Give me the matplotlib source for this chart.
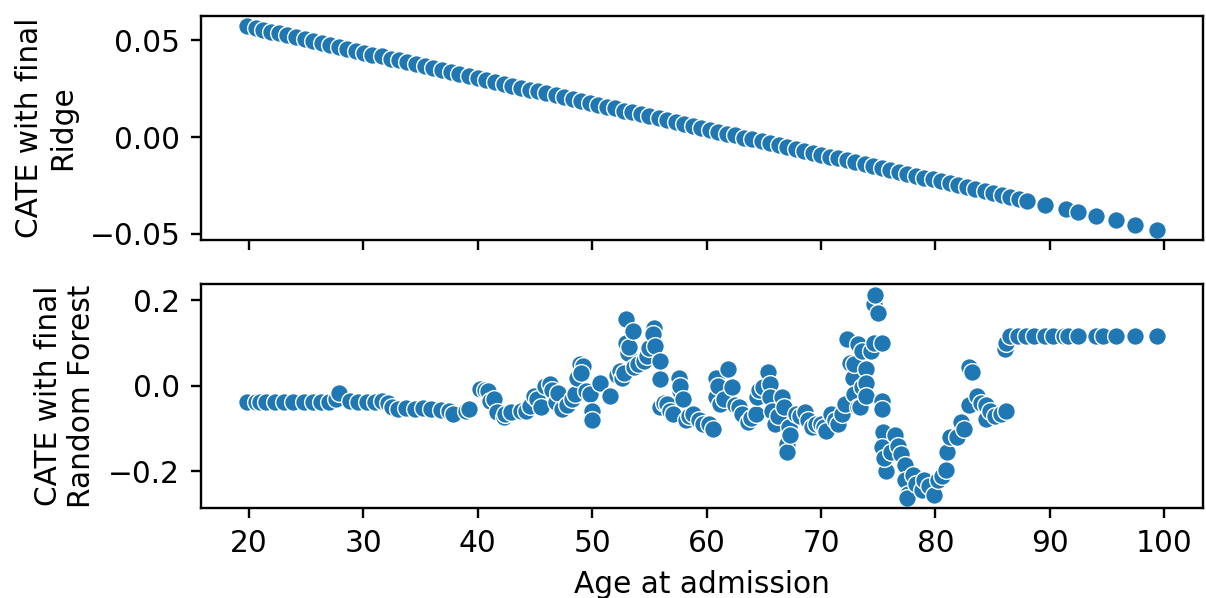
import matplotlib
matplotlib.use("Agg")
import matplotlib.pyplot as plt
import seaborn as sns

# Ridge final model: CATE vs age (points along the fitted line)
ridge_age = [19.8, 20.6, 21.2, 21.9, 22.6, 23.3, 24.1, 24.9, 25.6, 26.4, 27.1, 27.9,
             28.6, 29.4, 30.1, 30.8, 31.6, 32.4, 33.1, 33.8, 34.6, 35.4, 36.1, 36.9,
             37.7, 38.4, 39.2, 40.0, 40.7, 41.5, 42.3, 43.0, 43.8, 44.6, 45.3, 46.0,
             46.8, 47.5, 48.3, 49.0, 49.8, 50.5, 51.3, 52.0, 52.8, 53.5, 54.3, 55.0,
             55.8, 56.5, 57.3, 58.0, 58.8, 59.5, 60.3, 61.0, 61.8, 62.5, 63.3, 64.0,
             64.8, 65.5, 66.3, 67.0, 67.8, 68.5, 69.3, 70.0, 70.8, 71.5, 72.3, 73.0,
             73.8, 74.5, 75.3, 76.0, 76.8, 77.5, 78.3, 79.0, 79.8, 80.5, 81.3, 82.0,
             82.8, 83.5, 84.3, 85.0, 85.8, 86.5, 87.3, 88.0, 89.6, 91.4, 92.5, 94.0,
             95.8, 97.4, 99.4]
ridge_cate = [0.0573, 0.0562, 0.0554, 0.0545, 0.0536, 0.0526, 0.0516, 0.0505, 0.0496,
              0.0486, 0.0476, 0.0466, 0.0456, 0.0446, 0.0437, 0.0427, 0.0417, 0.0406,
              0.0397, 0.0388, 0.0377, 0.0367, 0.0358, 0.0347, 0.0336, 0.0327, 0.0317,
              0.0306, 0.0297, 0.0286, 0.0276, 0.0266, 0.0256, 0.0245, 0.0236, 0.0227,
              0.0216, 0.0207, 0.0196, 0.0187, 0.0177, 0.0167, 0.0157, 0.0148, 0.0137,
              0.0128, 0.0117, 0.0108, 0.0097, 0.0088, 0.0078, 0.0068, 0.0058, 0.0049,
              0.0038, 0.0029, 0.0018, 0.0009, -0.0002, -0.0011, -0.0021, -0.0031,
              -0.0041, -0.0050, -0.0061, -0.0070, -0.0081, -0.0090, -0.0101, -0.0110,
              -0.0120, -0.0130, -0.0140, -0.0149, -0.0160, -0.0169, -0.0180, -0.0189,
              -0.0200, -0.0209, -0.0219, -0.0229, -0.0239, -0.0248, -0.0259, -0.0268,
              -0.0279, -0.0288, -0.0299, -0.0308, -0.0318, -0.0328, -0.0349, -0.0372,
              -0.0387, -0.0407, -0.0431, -0.0452, -0.0478]

# Random forest final model: CATE vs age
rf_age = [19.8, 20.6, 21.0, 21.5, 22.3, 23.1, 23.9, 24.8, 25.6, 26.3, 27.0, 27.6, 27.9,
          28.8, 29.5, 30.3, 31.0, 31.6, 32.2, 32.5, 33.0, 33.7, 34.5, 35.2, 35.9, 36.8,
          37.5, 37.8, 39.0, 39.2, 40.2, 40.6, 40.9, 41.1, 41.4, 41.7, 42.3, 42.4, 42.9,
          43.8, 44.2, 44.6, 44.9, 45.2, 45.5, 45.9, 46.3, 46.5, 46.8, 47.0, 47.4, 47.8,
          48.2, 48.5, 48.7, 48.9, 49.2, 49.0, 49.5, 49.8, 50.0, 50.0, 50.7, 51.6, 52.2,
          52.4, 52.6, 52.8, 53.0, 53.0, 53.1, 53.2, 53.6, 53.7, 54.0, 54.5, 54.8, 55.0,
          55.4, 55.3, 55.5, 55.9, 55.9, 55.9, 56.3, 56.5, 56.8, 57.1, 57.6, 57.7, 57.7,
          57.9, 58.2, 58.5, 58.8, 59.3, 59.7, 60.2, 60.6, 60.8, 60.8, 61.0, 61.2, 61.5,
          61.9, 62.2, 62.5, 62.8, 63.1, 63.6, 63.9, 64.3, 64.4, 64.6, 64.9, 65.4, 65.5,
          65.5, 65.7, 66.0, 66.2, 66.6, 66.8, 67.0, 67.0, 67.2, 67.3, 67.8, 68.2, 68.6,
          68.9, 69.2, 69.6, 70.0, 70.3, 70.4, 70.9, 71.2, 71.5, 71.8, 72.1, 72.3, 72.5,
          72.8, 72.9, 72.9, 73.2, 73.2, 73.4, 73.6, 73.6, 73.9, 73.9, 73.9, 74.4, 74.6,
          74.6, 74.7, 75.0, 75.3, 75.3, 75.3, 75.4, 75.3, 75.7, 75.5, 76.1, 76.5, 76.7,
          77.0, 77.3, 77.3, 77.6, 77.5, 78.0, 78.3, 78.8, 79.0, 79.4, 79.9, 80.2, 80.6,
          80.9, 81.0, 81.3, 81.9, 82.2, 82.5, 82.9, 82.9, 83.2, 83.6, 84.0, 84.4, 84.4,
          84.8, 85.2, 85.7, 86.2, 86.1, 86.2, 86.5, 87.2, 87.9, 88.6, 89.6, 90.3, 91.2,
          91.6, 92.5, 94.0, 94.6, 95.8, 97.4, 99.4]
rf_cate = [-0.038, -0.038, -0.038, -0.038, -0.038, -0.038, -0.038, -0.038, -0.038, -0.038,
           -0.038, -0.030, -0.016, -0.036, -0.038, -0.038, -0.038, -0.036, -0.040, -0.050,
           -0.054, -0.052, -0.055, -0.052, -0.055, -0.056, -0.058, -0.066, -0.060, -0.054,
           -0.007, -0.010, -0.012, -0.035, -0.030, -0.062, -0.074, -0.066, -0.062, -0.058,
           -0.060, -0.047, -0.023, -0.030, -0.050, 0.000, 0.005, -0.010, -0.039, -0.016,
           -0.054, -0.045, -0.030, -0.019, 0.019, 0.050, 0.045, 0.030, -0.012, -0.020,
           -0.058, -0.081, 0.007, -0.023, 0.025, 0.035, 0.019, 0.030, 0.155, 0.100, 0.077,
           0.090, 0.128, 0.043, 0.050, 0.058, 0.070, 0.089, 0.135, 0.120, 0.093, 0.058,
           0.016, -0.050, -0.040, -0.042, -0.060, -0.066, 0.019, -0.012, 0.000, -0.030,
           -0.081, -0.070, -0.066, -0.080, -0.089, -0.090, -0.100, 0.019, -0.027, 0.000,
           -0.042, -0.030, 0.039, -0.004, -0.046, -0.050, -0.066, -0.085, -0.075, -0.066,
           -0.027, -0.010, -0.004, 0.031, 0.004, -0.027, -0.060, -0.089, -0.070, -0.027,
           -0.050, -0.136, -0.155, -0.097, -0.115, -0.066, -0.070, -0.062, -0.080, -0.097,
           -0.090, -0.090, -0.097, -0.105, -0.066, -0.080, -0.089, -0.066, -0.042, 0.109,
           0.054, 0.019, -0.019, 0.050, 0.097, -0.050, -0.050, 0.081, -0.004, 0.039, 0.007,
           -0.023, 0.081, 0.100, 0.190, 0.213, 0.170, 0.100, -0.035, -0.054, -0.108, -0.143,
           -0.200, -0.170, -0.155, -0.116, -0.140, -0.159, -0.186, -0.221, -0.252, -0.262,
           -0.209, -0.230, -0.244, -0.221, -0.235, -0.256, -0.221, -0.210, -0.198, -0.155,
           -0.120, -0.120, -0.085, -0.100, -0.046, 0.043, 0.031, -0.023, -0.040, -0.046,
           -0.077, -0.060, -0.070, -0.066, -0.058, 0.086, 0.101, 0.116, 0.116, 0.116, 0.116,
           0.116, 0.116, 0.116, 0.116, 0.116, 0.116, 0.116, 0.116, 0.116, 0.116]

dpi = 213
fig, (ax1, ax2) = plt.subplots(2, 1, sharex=True, figsize=(1206 / dpi, 598 / dpi), dpi=dpi)
fig.subplots_adjust(left=0.1667, right=0.9975, top=0.973, bottom=0.1505, hspace=0.2)

sns.scatterplot(x=ridge_age, y=ridge_cate, ax=ax1)
sns.scatterplot(x=rf_age, y=rf_cate, ax=ax2)

ax1.set_ylabel("CATE with final\nRidge")
ax2.set_ylabel("CATE with final\nRandom Forest")
ax2.set_xlabel("Age at admission")
ax1.set_yticks([-0.05, 0.0, 0.05])
ax2.set_yticks([-0.2, 0.0, 0.2])
ax2.set_xticks([20, 30, 40, 50, 60, 70, 80, 90, 100])

fig.savefig("out.png", dpi=dpi)
